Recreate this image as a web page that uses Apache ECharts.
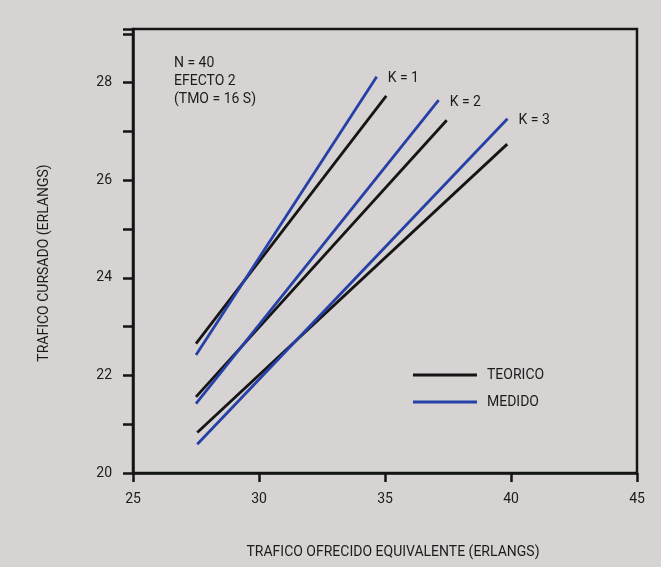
<!DOCTYPE html>
<html><head><meta charset="utf-8">
<script src="https://cdn.jsdelivr.net/npm/echarts@6/dist/echarts.min.js"></script>
<style>html,body{margin:0;padding:0;background:#d7d3d2}#c{width:661px;height:567px}</style>
</head><body><div id="c"></div>
<script>
const FONT = "Roboto,'Liberation Sans',sans-serif";
const kLabels = ['K = 1', 'K = 2', 'K = 3'];
// TEORICO lines (start, end) per K
const teoK1 = [[27.5, 22.65], [35.05, 27.73]];
const teoK2 = [[27.5, 21.56], [37.45, 27.23]];
const teoK3 = [[27.55, 20.83], [39.85, 26.74]];
// MEDIDO lines (start, end) per K
const medK1 = [[27.5, 22.42], [34.67, 28.12]];
const medK2 = [[27.5, 21.42], [37.13, 27.64]];
const medK3 = [[27.55, 20.59], [39.86, 27.26]];
const xTicks = [25, 30, 35, 40, 45];
const yTicks = [20, 22, 24, 26, 28];
const noteLines = ['N = 40', 'EFECTO 2', '(TMO = 16 S)'];

const chart = echarts.init(document.getElementById('c'));
const black = '#151515', blue = '#2540a6', txt = '#1c1c1c';
function mk(name, data, color, label) {
  const s = { name, type: 'line', data, symbol: 'none', lineStyle: { color, width: 2.8 }, itemStyle: { color }, silent: true, animation: false };
  if (label) s.endLabel = { show: true, formatter: label, color: txt, fontFamily: FONT, fontSize: 14, offset: [3, 2] };
  return s;
}
chart.setOption({
  backgroundColor: '#d7d3d2',
  animation: false,
  title: { text: noteLines.join('\n'), left: 174, top: 54, padding: 0, textStyle: { fontFamily: FONT, fontSize: 14, fontWeight: 'normal', color: txt, lineHeight: 18 } },
  grid: { left: 133, right: 24, top: 29, bottom: 94, show: true, borderColor: black, borderWidth: 2.5, backgroundColor: 'transparent' },
  legend: { orient: 'vertical', left: 413, top: 368, padding: 0, itemWidth: 64, itemHeight: 3, itemGap: 13, icon: 'rect', data: ['TEORICO', 'MEDIDO'], textStyle: { fontFamily: FONT, fontSize: 14, color: txt, padding: [0, 0, 0, 5] } },
  xAxis: {
    type: 'value', min: xTicks[0], max: xTicks[xTicks.length - 1], interval: 5,
    name: 'TRAFICO OFRECIDO EQUIVALENTE (ERLANGS)', nameLocation: 'middle', nameGap: 72,
    nameTextStyle: { fontFamily: FONT, fontSize: 14, color: txt, padding: [0, 0, 0, 16] },
    axisLine: { lineStyle: { color: black, width: 2.5 } },
    axisTick: { show: true, length: 9, lineStyle: { color: black, width: 2.5 } },
    axisLabel: { margin: 19, fontFamily: FONT, fontSize: 14, color: txt, formatter: v => xTicks.includes(v) ? String(v) : '' },
    splitLine: { show: false }
  },
  yAxis: {
    type: 'value', min: 20, max: 29.1, interval: 1,
    name: 'TRAFICO CURSADO (ERLANGS)', nameLocation: 'middle', nameGap: 82, nameRotate: 90,
    nameTextStyle: { fontFamily: FONT, fontSize: 14, color: txt, padding: [0, 24, 0, 0] },
    axisLine: { lineStyle: { color: black, width: 2.5 } },
    axisTick: { show: true, length: 10, lineStyle: { color: black, width: 2.5 } },
    axisLabel: { margin: 21, fontFamily: FONT, fontSize: 14, color: txt, formatter: v => yTicks.includes(v) ? String(v) : '' },
    splitLine: { show: false }
  },
  series: [
    mk('TEORICO', teoK1, black), mk('TEORICO', teoK2, black), mk('TEORICO', teoK3, black),
    mk('MEDIDO', medK1, blue, kLabels[0]), mk('MEDIDO', medK2, blue, kLabels[1]), mk('MEDIDO', medK3, blue, kLabels[2])
  ]
});
</script></body></html>
